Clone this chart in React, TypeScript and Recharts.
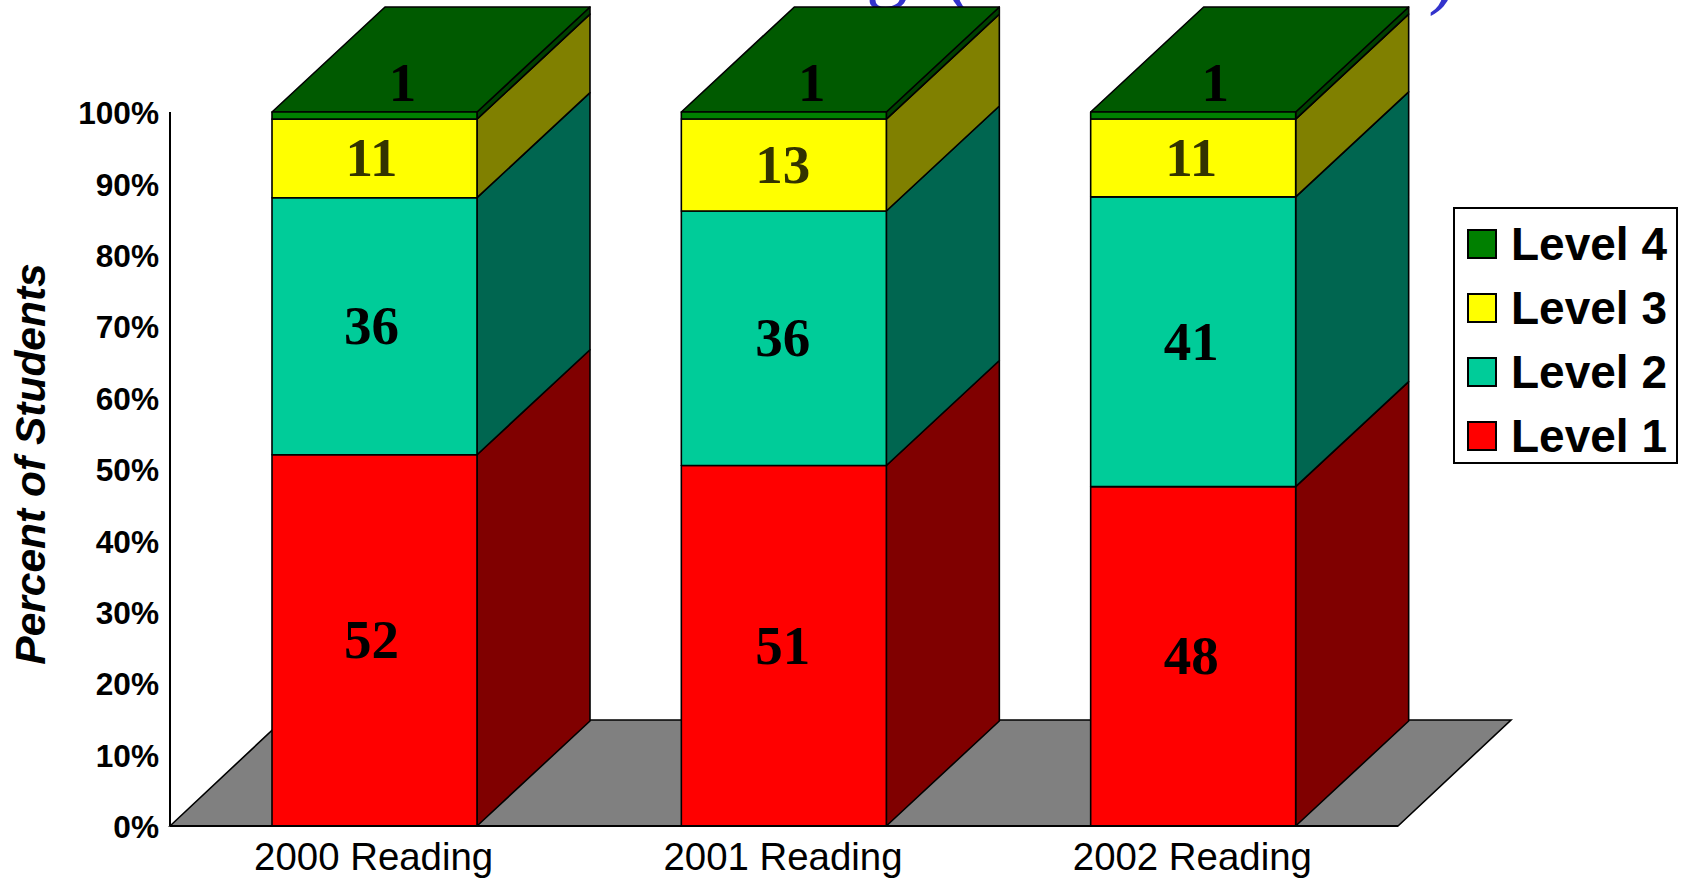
import { BarChart, Bar, XAxis, YAxis, Legend, LabelList, ReferenceArea } from "recharts";

const categories = ["2000 Reading", "2001 Reading", "2002 Reading"];
const level1 = [52, 51, 48];
const level2 = [36, 36, 41];
const level3 = [11, 13, 11];
const level4 = [1, 1, 1];
const yTicks = [0, 0.1, 0.2, 0.3, 0.4, 0.5, 0.6, 0.7, 0.8, 0.9, 1];

const data = categories.map((name, i) => ({
  name,
  "Level 1": level1[i],
  "Level 2": level2[i],
  "Level 3": level3[i],
  "Level 4": level4[i],
}));

// depth of the fake 3d extrusion, px
const DX = 113;
const DY = 105;
const FLOOR_DX = 113;
const FLOOR_DY = 106;
const SANS = "'Liberation Sans', Arial, sans-serif";
const SERIF = "'Liberation Serif', 'Times New Roman', serif";
const LINE = 1.6;

const pts = (list: number[][]) => list.map((p) => p.join(",")).join(" ");

const Box3d = ({ x, y, width, height, fill, side, top }: any) => (
  <g stroke="#000" strokeWidth={LINE} strokeLinejoin="round">
    <polygon
      points={pts([
        [x + width, y],
        [x + width + DX, y - DY],
        [x + width + DX, y + height - DY],
        [x + width, y + height],
      ])}
      fill={side}
    />
    {top && (
      <polygon
        points={pts([
          [x, y],
          [x + DX, y - DY],
          [x + width + DX, y - DY],
          [x + width, y],
        ])}
        fill={top}
      />
    )}
    <rect x={x} y={y} width={width} height={height} fill={fill} />
  </g>
);

const Floor = ({ x, y, width, height }: any) => {
  const b = y + height;
  return (
    <polygon
      points={pts([
        [x, b],
        [x + FLOOR_DX, b - FLOOR_DY],
        [x + width + FLOOR_DX, b - FLOOR_DY],
        [x + width, b],
      ])}
      fill="#808080"
      stroke="#000"
      strokeWidth={LINE}
    />
  );
};

// numbers are not quite centred on their bars in the original
const labelShift = [-3, -1, -2];
const SegmentLabel = ({ x, y, width, height, value, color, index }: any) => (
  <text
    x={x + width / 2 + labelShift[index]}
    y={y + height / 2 + 18}
    textAnchor="middle"
    fontFamily={SERIF}
    fontWeight="bold"
    fontSize={55}
    fill={color}
  >
    {value}
  </text>
);

// the level 4 numbers sit up on the lid of the box
const lidShift = [28, 28, 22];
const LidLabel = ({ x, y, width, value, index }: any) => (
  <text
    x={x + width / 2 + lidShift[index]}
    y={y - 11}
    textAnchor="middle"
    fontFamily={SERIF}
    fontWeight="bold"
    fontSize={55}
    fill="#000"
  >
    {value}
  </text>
);

const AxisTitle = ({ viewBox }: any) => {
  const cy = viewBox.y + viewBox.height / 2 - 5;
  return (
    <text
      transform={`translate(45 ${cy}) rotate(-90)`}
      textAnchor="middle"
      fontFamily={SANS}
      fontWeight="bold"
      fontStyle="italic"
      fontSize={42.5}
      fill="#000"
    >
      Percent of Students
    </text>
  );
};

const swatchColors: Record<string, string> = {
  "Level 4": "#008000",
  "Level 3": "#ffff00",
  "Level 2": "#00cc99",
  "Level 1": "#ff0000",
};

const LegendBox = () => (
  <div
    style={{
      boxSizing: "border-box",
      width: 225,
      height: 257,
      border: "2px solid #000",
      background: "#fff",
      paddingTop: 3,
      paddingLeft: 12,
    }}
  >
    {Object.keys(swatchColors).map((name) => (
      <div key={name} style={{ display: "flex", alignItems: "center", height: 64 }}>
        <div
          style={{
            boxSizing: "border-box",
            width: 30,
            height: 30,
            border: "2px solid #000",
            background: swatchColors[name],
            marginRight: 14,
          }}
        />
        <span style={{ fontFamily: SANS, fontWeight: "bold", fontSize: 46, lineHeight: 1, color: "#000" }}>{name}</span>
      </div>
    ))}
  </div>
);

export default function App() {
  return (
    <div style={{ position: "absolute", left: 0, top: 0, width: 1683, height: 880, background: "#fff", overflow: "hidden" }}>
      {/* bits of the slide title that stick out behind the chart */}
      <svg width={1683} height={880} style={{ position: "absolute", left: 0, top: 0 }}>
        <g fontFamily={SERIF} fontSize={84} fill="#3333cc">
          <text x={866} y={-8}>g</text>
          <text x={945} y={-2}>(</text>
          <text x={1428} y={-2}>)</text>
        </g>
      </svg>
      <div style={{ position: "absolute", left: 0, top: 0 }}>
        <BarChart
          width={1683}
          height={880}
          data={data}
          stackOffset="expand"
          margin={{ top: 112, right: 285, bottom: 0, left: 0 }}
          style={{ background: "transparent" }}
        >
          <XAxis
            dataKey="name"
            height={54}
            interval={0}
            axisLine={{ stroke: "#000", strokeWidth: 2 }}
            tickLine={false}
            tickSize={0}
            tickMargin={17}
            tick={{ fontFamily: SANS, fontSize: 38.4, fill: "#000", dx: -1 }}
          />
          <YAxis
            width={170}
            domain={[0, 1]}
            ticks={yTicks}
            interval={0}
            tickFormatter={(v: number) => `${Math.round(v * 100)}%`}
            axisLine={{ stroke: "#000", strokeWidth: 2 }}
            tickLine={false}
            tickSize={0}
            tickMargin={11}
            tick={{ fontFamily: SANS, fontWeight: "bold", fontSize: 31.6, fill: "#000", dy: 1 }}
            label={<AxisTitle />}
          />
          <ReferenceArea y1={0} y2={1} ifOverflow="visible" shape={<Floor />} />
          <Bar
            dataKey="Level 1"
            stackId="a"
            barSize={205}
            fill="#ff0000"
            isAnimationActive={false}
            shape={(p: any) => <Box3d {...p} side="#800000" />}
          >
            <LabelList dataKey="Level 1" content={<SegmentLabel color="#000" />} />
          </Bar>
          <Bar
            dataKey="Level 2"
            stackId="a"
            barSize={205}
            fill="#00cc99"
            isAnimationActive={false}
            shape={(p: any) => <Box3d {...p} side="#006650" />}
          >
            <LabelList dataKey="Level 2" content={<SegmentLabel color="#000" />} />
          </Bar>
          <Bar
            dataKey="Level 3"
            stackId="a"
            barSize={205}
            fill="#ffff00"
            isAnimationActive={false}
            shape={(p: any) => <Box3d {...p} side="#808000" />}
          >
            <LabelList dataKey="Level 3" content={<SegmentLabel color="#333300" />} />
          </Bar>
          <Bar
            dataKey="Level 4"
            stackId="a"
            barSize={205}
            fill="#008000"
            isAnimationActive={false}
            shape={(p: any) => <Box3d {...p} side="#004000" top="#005a00" />}
          >
            <LabelList dataKey="Level 4" content={<LidLabel />} />
          </Bar>
          <Legend
            layout="vertical"
            align="center"
            verticalAlign="middle"
            content={<LegendBox />}
            wrapperStyle={{ left: 1453, top: 207, width: 225, height: 257, bottom: "auto", right: "auto" }}
          />
        </BarChart>
      </div>
    </div>
  );
}
